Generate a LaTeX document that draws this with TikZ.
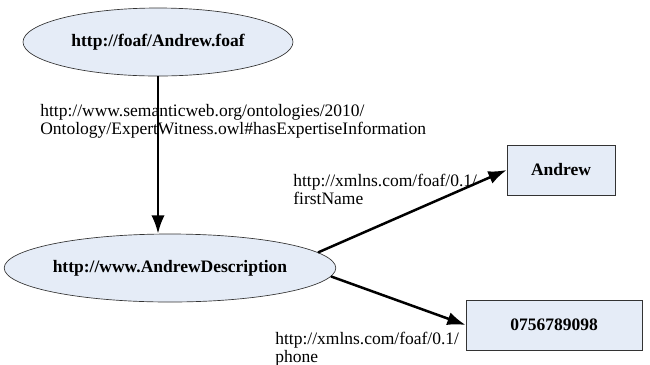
\documentclass[tikz,border=0pt]{standalone}
\usepackage{fontspec}
\setmainfont{Liberation Serif}
\usetikzlibrary{shapes.geometric,arrows.meta}
\definecolor{nodefill}{RGB}{229,236,247}
\tikzset{
  resnode/.style={ellipse, draw=black!80, thin, fill=nodefill, font=\fontsize{10.5}{12}\selectfont\bfseries, minimum height=40.8pt, inner sep=0pt},
  litnode/.style={rectangle, draw=black!80, thin, fill=nodefill, font=\fontsize{10.5}{12}\selectfont\bfseries, minimum height=30pt, inner sep=0pt},
  proplabel/.style={anchor=west, align=left, inner sep=0pt, font=\fontsize{10.5}{10.8}\selectfont},
  link/.style={draw=black, line width=1.5pt, -{Latex[length=11pt,width=8pt]}}
}
\begin{document}
\begin{tikzpicture}[x=0.6pt, y=-0.6pt]
            \useasboundingbox (0,0) rectangle (650,364);
            \node[resnode, minimum width=162pt] (foaf) at (158,42) {http://foaf/Andrew.foaf};
            \node[resnode, minimum width=189.6pt] (desc) at (170,268) {http://www.AndrewDescription};
            \node[litnode, minimum width=64.8pt] (name) at (561,170) {Andrew};
            \node[litnode, minimum width=105.6pt] (phone) at (554,325) {0756789098};
            \node[proplabel] (expert) at (40,121.5) {http://www.semanticweb.org/ontologies/2010/\\Ontology/ExpertWitness.owl\#hasExpertiseInformation};
            \node[proplabel] (first) at (293,189.5) {http://xmlns.com/foaf/0.1/\\firstName};
            \node[proplabel] (tel) at (275,349) {http://xmlns.com/foaf/0.1/\\phone};
            \draw[link] (foaf.south) -- (foaf.south |- desc.north);
            \draw[link] (desc.6) -- (name.west);
            \draw[link] (desc.-3.5) -- (phone.west);
        \end{tikzpicture}
\end{document}
